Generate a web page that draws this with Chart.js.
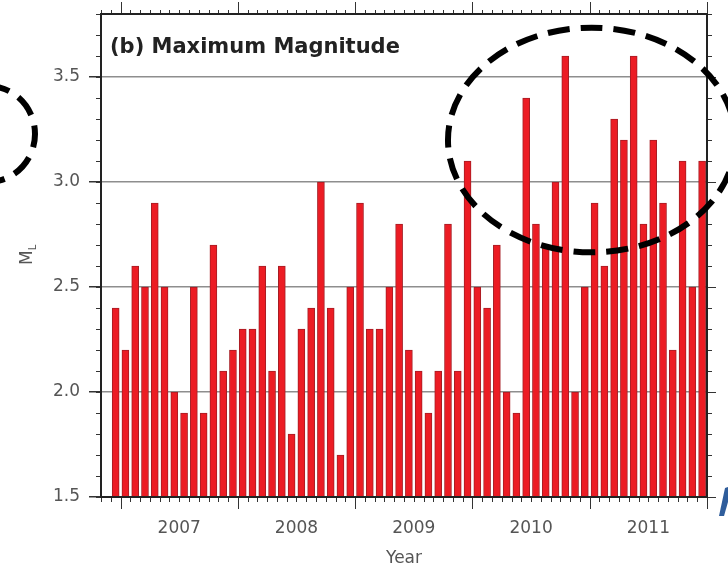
<!DOCTYPE html>
<html>
<head>
<meta charset="utf-8">
<script src="https://cdn.jsdelivr.net/npm/chart.js@4/dist/chart.umd.min.js"></script>
<style>
  html, body { margin: 0; padding: 0; background: #fff; }
  #wrap { width: 728px; height: 569px; }
</style>
</head>
<body>
<div id="wrap"><canvas id="magChart" width="728" height="569"></canvas></div>
<script>
// monthly maximum magnitude (ML), Dec 2006 .. Dec 2011, one value per month
const maxMag = [
  2.4, 2.2, 2.6, 2.5, 2.9, 2.5, 2.0, 1.9, 2.5, 1.9, 2.7, 2.1,
  2.2, 2.3, 2.3, 2.6, 2.1, 2.6, 1.8, 2.3, 2.4, 3.0, 2.4, 1.7,
  2.5, 2.9, 2.3, 2.3, 2.5, 2.8, 2.2, 2.1, 1.9, 2.1, 2.8, 2.1,
  3.1, 2.5, 2.4, 2.7, 2.0, 1.9, 3.4, 2.8, 2.7, 3.0, 3.6, 2.0,
  2.5, 2.9, 2.6, 3.3, 3.2, 3.6, 2.8, 3.2, 2.9, 2.2, 3.1, 2.5,
  3.1
];
// x axis: month index, 0 = Dec 2006
const years = ['2007', '2008', '2009', '2010', '2011'];
const yTicks = [1.5, 2.0, 2.5, 3.0, 3.5];
const yMin = 1.5, yMax = 3.8;
const xMin = -1.5, xMax = 60.5;

const FONT = 'DejaVu Sans';

// year k starts at month index 12k+1 (January)
const yearCenter = k => 12 * k + 6.5;

// frame, minor ticks, panel label, y title and the overlay marks
const framePlugin = {
  id: 'frame',
  afterDraw(chart) {
    const { ctx, chartArea: a } = chart;
    const xs = chart.scales.x, ys = chart.scales.y;
    ctx.save();
    ctx.strokeStyle = '#333';
    ctx.lineWidth = 1;

    // month ticks on top and bottom
    for (let m = xMin; m <= xMax + 0.01; m += 1) {
      const px = Math.round(xs.getPixelForValue(m)) + 0.5;
      const major = ((m - 0.5) % 12 === 0);
      ctx.beginPath();
      ctx.moveTo(px, a.top); ctx.lineTo(px, a.top - (major ? 12 : 4));
      ctx.moveTo(px, a.bottom); ctx.lineTo(px, a.bottom + (major ? 12 : 5));
      ctx.stroke();
    }
    // 0.1 ticks on left and right
    for (let v = yMin; v <= yMax + 0.001; v += 0.1) {
      const py = Math.round(ys.getPixelForValue(v)) + 0.5;
      const major = yTicks.some(t => Math.abs(t - v) < 0.001);
      ctx.beginPath();
      ctx.moveTo(a.left, py); ctx.lineTo(a.left - 5, py);
      ctx.moveTo(a.right, py); ctx.lineTo(a.right + (major ? 9 : 5), py);
      ctx.stroke();
    }

    // box
    ctx.lineWidth = 2;
    ctx.strokeStyle = '#222';
    ctx.strokeRect(a.left, a.top, a.right - a.left, a.bottom - a.top);

    // panel label
    ctx.fillStyle = '#222';
    ctx.font = 'bold 21px ' + FONT;
    ctx.textBaseline = 'alphabetic';
    ctx.textAlign = 'left';
    ctx.fillText('(b) Maximum Magnitude', a.left + 9, a.top + 39);

    // y title M with subscript L
    ctx.save();
    ctx.translate(32, 265);
    ctx.rotate(-Math.PI / 2);
    ctx.fillStyle = '#555';
    ctx.font = '17px ' + FONT;
    ctx.fillText('M', 0, 0);
    const mw = ctx.measureText('M').width;
    ctx.font = '10px ' + FONT;
    ctx.fillText('L', mw, 4);
    ctx.restore();

    // dashed ellipse around the 2010-2011 peaks
    const cx = xs.getPixelForValue(48.7);
    const cy = ys.getPixelForValue(3.2);
    const rx = xs.getPixelForValue(48.7 + 14.7) - cx;
    const ry = cy - ys.getPixelForValue(3.2 + 0.535);
    ctx.setLineDash([22, 11]);
    ctx.lineWidth = 6;
    ctx.strokeStyle = '#000';
    ctx.beginPath();
    ctx.ellipse(cx, cy, rx, ry, 0, 0, Math.PI * 2);
    ctx.stroke();

    // piece of the neighbouring panel's ellipse at the left edge
    ctx.beginPath();
    ctx.ellipse(-12, 134, 47, 48, 0, -Math.PI / 2, Math.PI / 2);
    ctx.stroke();
    ctx.setLineDash([]);

    // blue arrow fragment at the bottom right
    ctx.fillStyle = '#2f5d9b';
    ctx.beginPath();
    ctx.moveTo(719, 516); ctx.lineTo(724, 516); ctx.lineTo(728, 502);
    ctx.lineTo(728, 487); ctx.lineTo(725, 488);
    ctx.closePath();
    ctx.fill();
    ctx.restore();
  }
};

const ctxMag = document.getElementById('magChart');
new Chart(ctxMag, {
  type: 'bar',
  data: {
    datasets: [{
      data: maxMag.map((v, i) => ({ x: i, y: v })),
      backgroundColor: '#ec1c24',
      borderColor: '#a61d24',
      borderWidth: 1,
      barThickness: 7
    }]
  },
  options: {
    responsive: false,
    animation: false,
    devicePixelRatio: 1,
    layout: { padding: { top: 14, right: 21, left: 0, bottom: 0 } },
    plugins: { legend: { display: false }, tooltip: { enabled: false } },
    scales: {
      x: {
        type: 'linear',
        min: xMin,
        max: xMax,
        offset: false,
        grid: { display: false, drawTicks: false },
        border: { display: false },
        afterBuildTicks(scale) {
          scale.ticks = years.map((y, k) => ({ value: yearCenter(k) }));
        },
        afterFit(scale) {
          scale.height = 72;
          scale.paddingLeft = 0;
          scale.paddingRight = 0;
        },
        ticks: {
          padding: 21,
          color: '#555',
          font: { family: FONT, size: 17 },
          maxRotation: 0,
          callback: (v, i) => years[i]
        },
        title: {
          display: true,
          text: 'Year',
          color: '#555',
          font: { family: FONT, size: 17 },
          padding: { top: 0, bottom: 0 }
        }
      },
      y: {
        min: yMin,
        max: yMax,
        afterBuildTicks(scale) {
          scale.ticks = yTicks.map(v => ({ value: v }));
        },
        afterFit(scale) {
          scale.width = 101;
          scale.paddingTop = 0;
          scale.paddingBottom = 0;
        },
        grid: {
          color: '#8e8e8e',
          lineWidth: 1.5,
          drawTicks: true,
          tickLength: 12,
          tickColor: '#333'
        },
        border: { display: false },
        ticks: {
          padding: 9,
          color: '#555',
          font: { family: FONT, size: 17 },
          callback: v => v.toFixed(1)
        }
      }
    }
  },
  plugins: [framePlugin]
});
</script>
</body>
</html>
